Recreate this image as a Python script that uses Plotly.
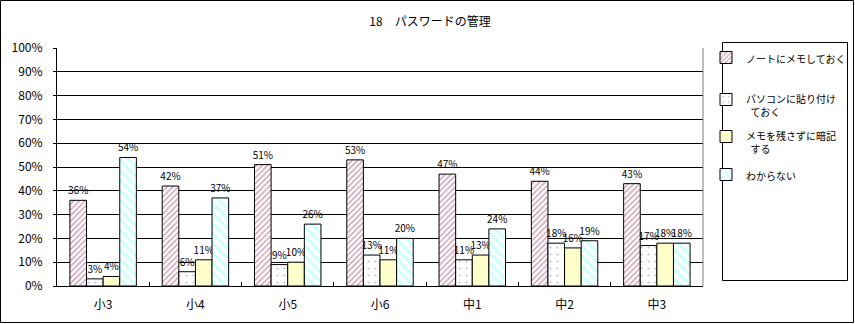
import plotly.graph_objects as go

# School grades
grades = ["小3", "小4", "小5", "小6", "中1", "中2", "中3"]

# Share of answers (%) for each way of managing passwords
note_memo = [36, 42, 51, 53, 47, 44, 43]
pc_sticky = [3, 6, 9, 13, 11, 18, 17]
memorize = [4, 11, 10, 11, 13, 16, 18]
unknown = [54, 37, 26, 20, 24, 19, 18]

series_names = [
    "ノートにメモしておく",
    "パソコンに貼り付け<br>  ておく",
    "メモを残さずに暗記<br>  する",
    "わからない",
]

FONT = "Noto Sans CJK JP, MS PGothic, sans-serif"

styles = [
    dict(color="white", pattern=dict(shape="/", fgcolor="#993366", bgcolor="white",
                                     size=4, solidity=0.35)),
    dict(color="white", pattern=dict(shape=".", fgcolor="#7777ff", bgcolor="white",
                                     size=7, solidity=0.08)),
    dict(color="#ffffcc"),
    dict(color="white", pattern=dict(shape="\\", fgcolor="#99ffff", bgcolor="white",
                                     size=7, solidity=0.45)),
]

W, H = 855, 324
L, R, T, B = 57, 152, 48, 38
pw, ph = W - L - R, H - T - B

def px(x):
    return (x - L) / pw

def py(y):
    return 1 - (y - T) / ph

# one legend per series, each centred on its own row of the legend box
legend_rows = [59, 106, 143, 176]
legend_ids = ["legend", "legend2", "legend3", "legend4"]

fig = go.Figure()
for i, (name, vals) in enumerate(zip(series_names, [note_memo, pc_sticky, memorize, unknown])):
    fig.add_trace(go.Bar(
        x=grades, y=vals, name=name,
        legend=legend_ids[i],
        marker=dict(line=dict(color="black", width=1), **styles[i]),
        texttemplate="%{y}", textposition="outside",
        textfont=dict(family=FONT, size=10, color="black"),
        constraintext="none",
        cliponaxis=False,
    ))

legend_common = dict(xanchor="left", yanchor="middle",
                     font=dict(family=FONT, size=10, color="black"),
                     itemwidth=30, bgcolor="rgba(0,0,0,0)", valign="top")

fig.update_layout(
    width=W, height=H,
    margin=dict(l=L, r=R, t=T, b=B, autoexpand=False),
    paper_bgcolor="white", plot_bgcolor="white",
    barmode="group", bargap=0.28, bargroupgap=0,
    font=dict(family=FONT, size=12, color="black"),
    title=dict(text="18　パスワードの管理", x=430 / W, xanchor="center",
               y=1 - 22 / H, yanchor="middle",
               font=dict(family=FONT, size=12, color="black")),
    showlegend=True,
    xaxis=dict(showline=True, linecolor="black", linewidth=1,
               ticks="inside", ticklen=4, tickcolor="black", tickson="boundaries",
               ticklabelstandoff=8,
               tickfont=dict(family=FONT, size=12), fixedrange=True),
    yaxis=dict(range=[0, 100], dtick=10, ticksuffix="%",
               showgrid=True, gridcolor="black", gridwidth=1,
               showline=True, linecolor="black", linewidth=1,
               ticks="outside", ticklen=3, tickcolor="black",
               ticklabelstandoff=8,
               tickfont=dict(family=FONT, size=12), zeroline=False),
    shapes=[
        # outer chart frame
        dict(type="rect", xref="paper", yref="paper",
             x0=px(0.5), x1=px(W - 1.5), y0=py(H - 1.5), y1=py(0.5),
             line=dict(color="black", width=1)),
        # legend frame
        dict(type="rect", xref="paper", yref="paper",
             x0=px(722.5), x1=px(847.5), y0=py(280.5), y1=py(42.5),
             line=dict(color="black", width=1)),
        # right edge of plot area
        dict(type="line", xref="paper", yref="paper", x0=1, x1=1, y0=0, y1=1,
             line=dict(color="#808080", width=1)),
    ],
)
for lid, row in zip(legend_ids, legend_rows):
    fig.update_layout({lid: dict(x=px(706), y=py(row), **legend_common)})

fig.write_html("out.html")
